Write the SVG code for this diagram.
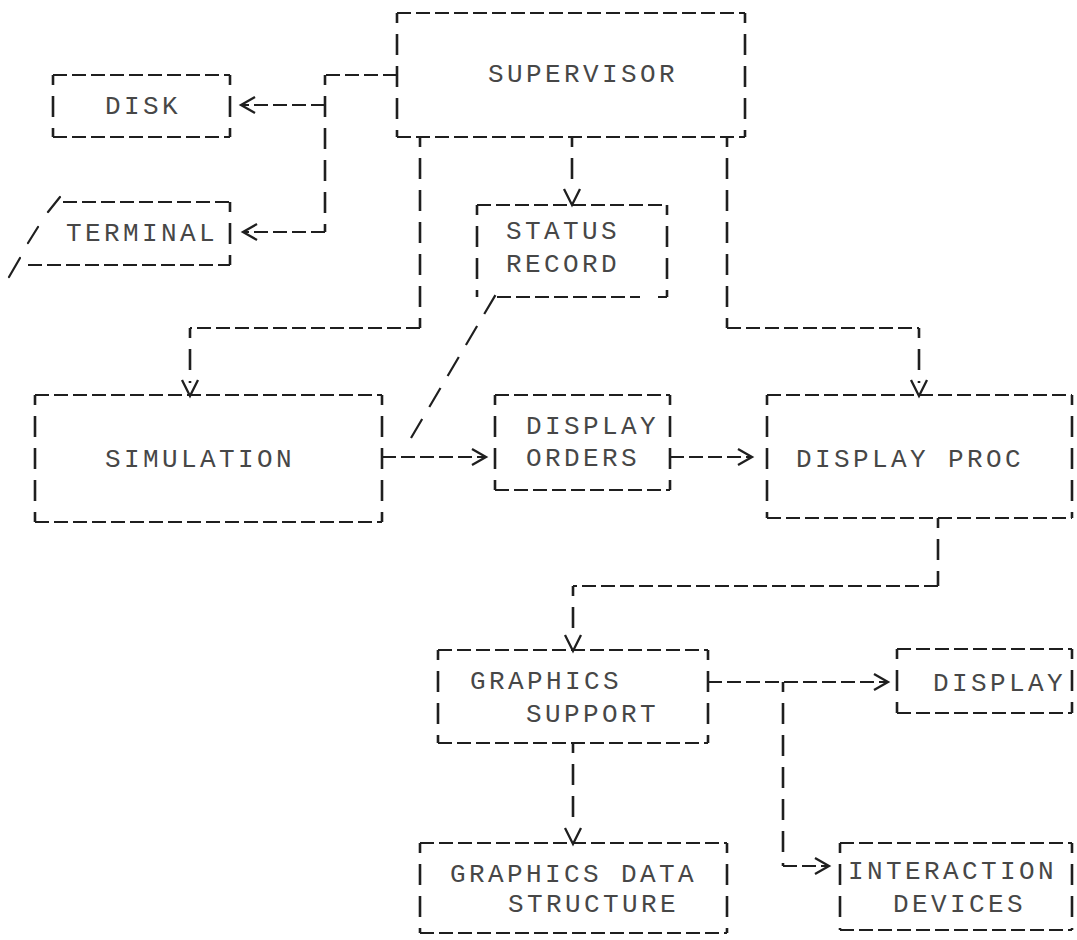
<svg xmlns="http://www.w3.org/2000/svg" width="1077" height="940" viewBox="0 0 1077 940">
  <style>
    .h { fill: none; stroke: #1f1f1f; stroke-width: 2.2; stroke-dasharray: 14 5; }
    .v { fill: none; stroke: #1f1f1f; stroke-width: 2.6; stroke-dasharray: 21 11; stroke-dashoffset: 11; }
    .s { fill: none; stroke: #1f1f1f; stroke-width: 2.2; stroke-linecap: round; }
    .d { fill: none; stroke: #1f1f1f; stroke-width: 2.2; stroke-dasharray: 22 14; }
    .a { fill: none; stroke: #1f1f1f; stroke-width: 2.3; stroke-linejoin: miter; }
    text { font-family: "Liberation Mono", "DejaVu Sans Mono", monospace; font-size: 26px; letter-spacing: 3.4px; fill: #474747; }
  </style>
  <rect width="1077" height="940" fill="#ffffff"/>

  <!-- boxes -->
  <g id="supervisor">
    <path class="h" d="M397 13H745M397 137H745"/>
    <path class="v" d="M397 13V137M745 13V137"/>
    <text x="488" y="82">SUPERVISOR</text>
  </g>

  <g id="disk">
    <path class="h" d="M53 75H230M53 137H230"/>
    <path class="v" d="M53 75V137M230 75V137"/>
    <text x="105" y="114">DISK</text>
  </g>

  <g id="terminal">
    <path class="h" d="M63 202H230M28 265H230"/>
    <path class="v" d="M230 202V265"/>
    <path class="s" d="M48 212L60 197M28 243L38 227M9 277L20 258"/>
    <text x="66" y="241">TERMINAL</text>
  </g>

  <g id="status-record">
    <path class="h" d="M497 297H640M658 297H667M477 205H667"/>
    <path class="v" d="M477 205V297M667 205V297"/>
    <text x="506" y="239">STATUS</text>
    <text x="506" y="272">RECORD</text>
  </g>

  <g id="simulation">
    <path class="h" d="M35 395H382M35 522H382"/>
    <path class="v" d="M35 395V522M382 395V522"/>
    <text x="105" y="467">SIMULATION</text>
  </g>

  <g id="display-orders">
    <path class="h" d="M495 395H670M495 490H670"/>
    <path class="v" d="M495 395V490M670 395V490"/>
    <text x="526" y="434">DISPLAY</text>
    <text x="526" y="466">ORDERS</text>
  </g>

  <g id="display-proc">
    <path class="h" d="M767 395H1072M767 518H1072"/>
    <path class="v" d="M767 395V518M1072 395V518"/>
    <text x="796" y="467">DISPLAY PROC</text>
  </g>

  <g id="graphics-support">
    <path class="h" d="M438 650H708M438 743H708"/>
    <path class="v" d="M438 650V743M708 650V743"/>
    <text x="470" y="689">GRAPHICS</text>
    <text x="526" y="722">SUPPORT</text>
  </g>

  <g id="display">
    <path class="h" d="M897 649H1072M897 713H1072"/>
    <path class="v" d="M897 649V713M1072 649V713"/>
    <text x="933" y="691">DISPLAY</text>
  </g>

  <g id="graphics-data-structure">
    <path class="h" d="M420 843H727M420 933H727"/>
    <path class="v" d="M420 843V933M727 843V933"/>
    <text x="450" y="882">GRAPHICS DATA</text>
    <text x="508" y="912">STRUCTURE</text>
  </g>

  <g id="interaction-devices">
    <path class="h" d="M840 843H1072M840 930H1072"/>
    <path class="v" d="M840 843V930M1072 843V930"/>
    <text x="848" y="879">INTERACTION</text>
    <text x="893" y="912">DEVICES</text>
  </g>

  <!-- connectors -->
  <g id="connectors">
    <!-- supervisor to disk and terminal -->
    <path class="h" d="M397 75H325"/>
    <path class="v" d="M325 75V232"/>
    <path class="h" d="M325 105H242"/>
    <path class="h" d="M325 232H244"/>
    <path class="a" d="M255 97L241 105L255 113"/>
    <path class="a" d="M257 224L243 232L257 240"/>

    <!-- supervisor to simulation -->
    <path class="v" d="M420 137V328"/>
    <path class="h" d="M420 328H190"/>
    <path class="v" d="M190 328V383"/>
    <path class="a" d="M182 380L190 396L198 380"/>

    <!-- supervisor to status record -->
    <path class="v" d="M572 137V190"/>
    <path class="a" d="M564 189L572 205L580 189"/>

    <!-- supervisor to display proc -->
    <path class="v" d="M727 137V328"/>
    <path class="h" d="M727 328H919"/>
    <path class="v" d="M919 328V383"/>
    <path class="a" d="M911 380L919 396L927 380"/>

    <!-- simulation to display orders -->
    <path class="h" d="M382 457H486"/>
    <path class="a" d="M472 449L486 457L472 465"/>

    <!-- simulation to status record -->
    <path class="d" d="M411 438L499 289"/>

    <!-- display orders to display proc -->
    <path class="h" d="M670 457H752"/>
    <path class="a" d="M738 449L752 457L738 465"/>

    <!-- display proc to graphics support -->
    <path class="v" d="M938 518V586"/>
    <path class="h" d="M938 586H573"/>
    <path class="v" d="M573 586V636"/>
    <path class="a" d="M565 635L573 651L581 635"/>

    <!-- graphics support to display -->
    <path class="h" d="M708 682H888"/>
    <path class="a" d="M874 674L888 682L874 690"/>

    <!-- branch to interaction devices -->
    <path class="v" d="M783 682V866"/>
    <path class="h" d="M783 866H828"/>
    <path class="a" d="M815 858L829 866L815 874"/>

    <!-- graphics support to graphics data structure -->
    <path class="v" d="M573 743V828"/>
    <path class="a" d="M565 828L573 844L581 828"/>
  </g>
</svg>
